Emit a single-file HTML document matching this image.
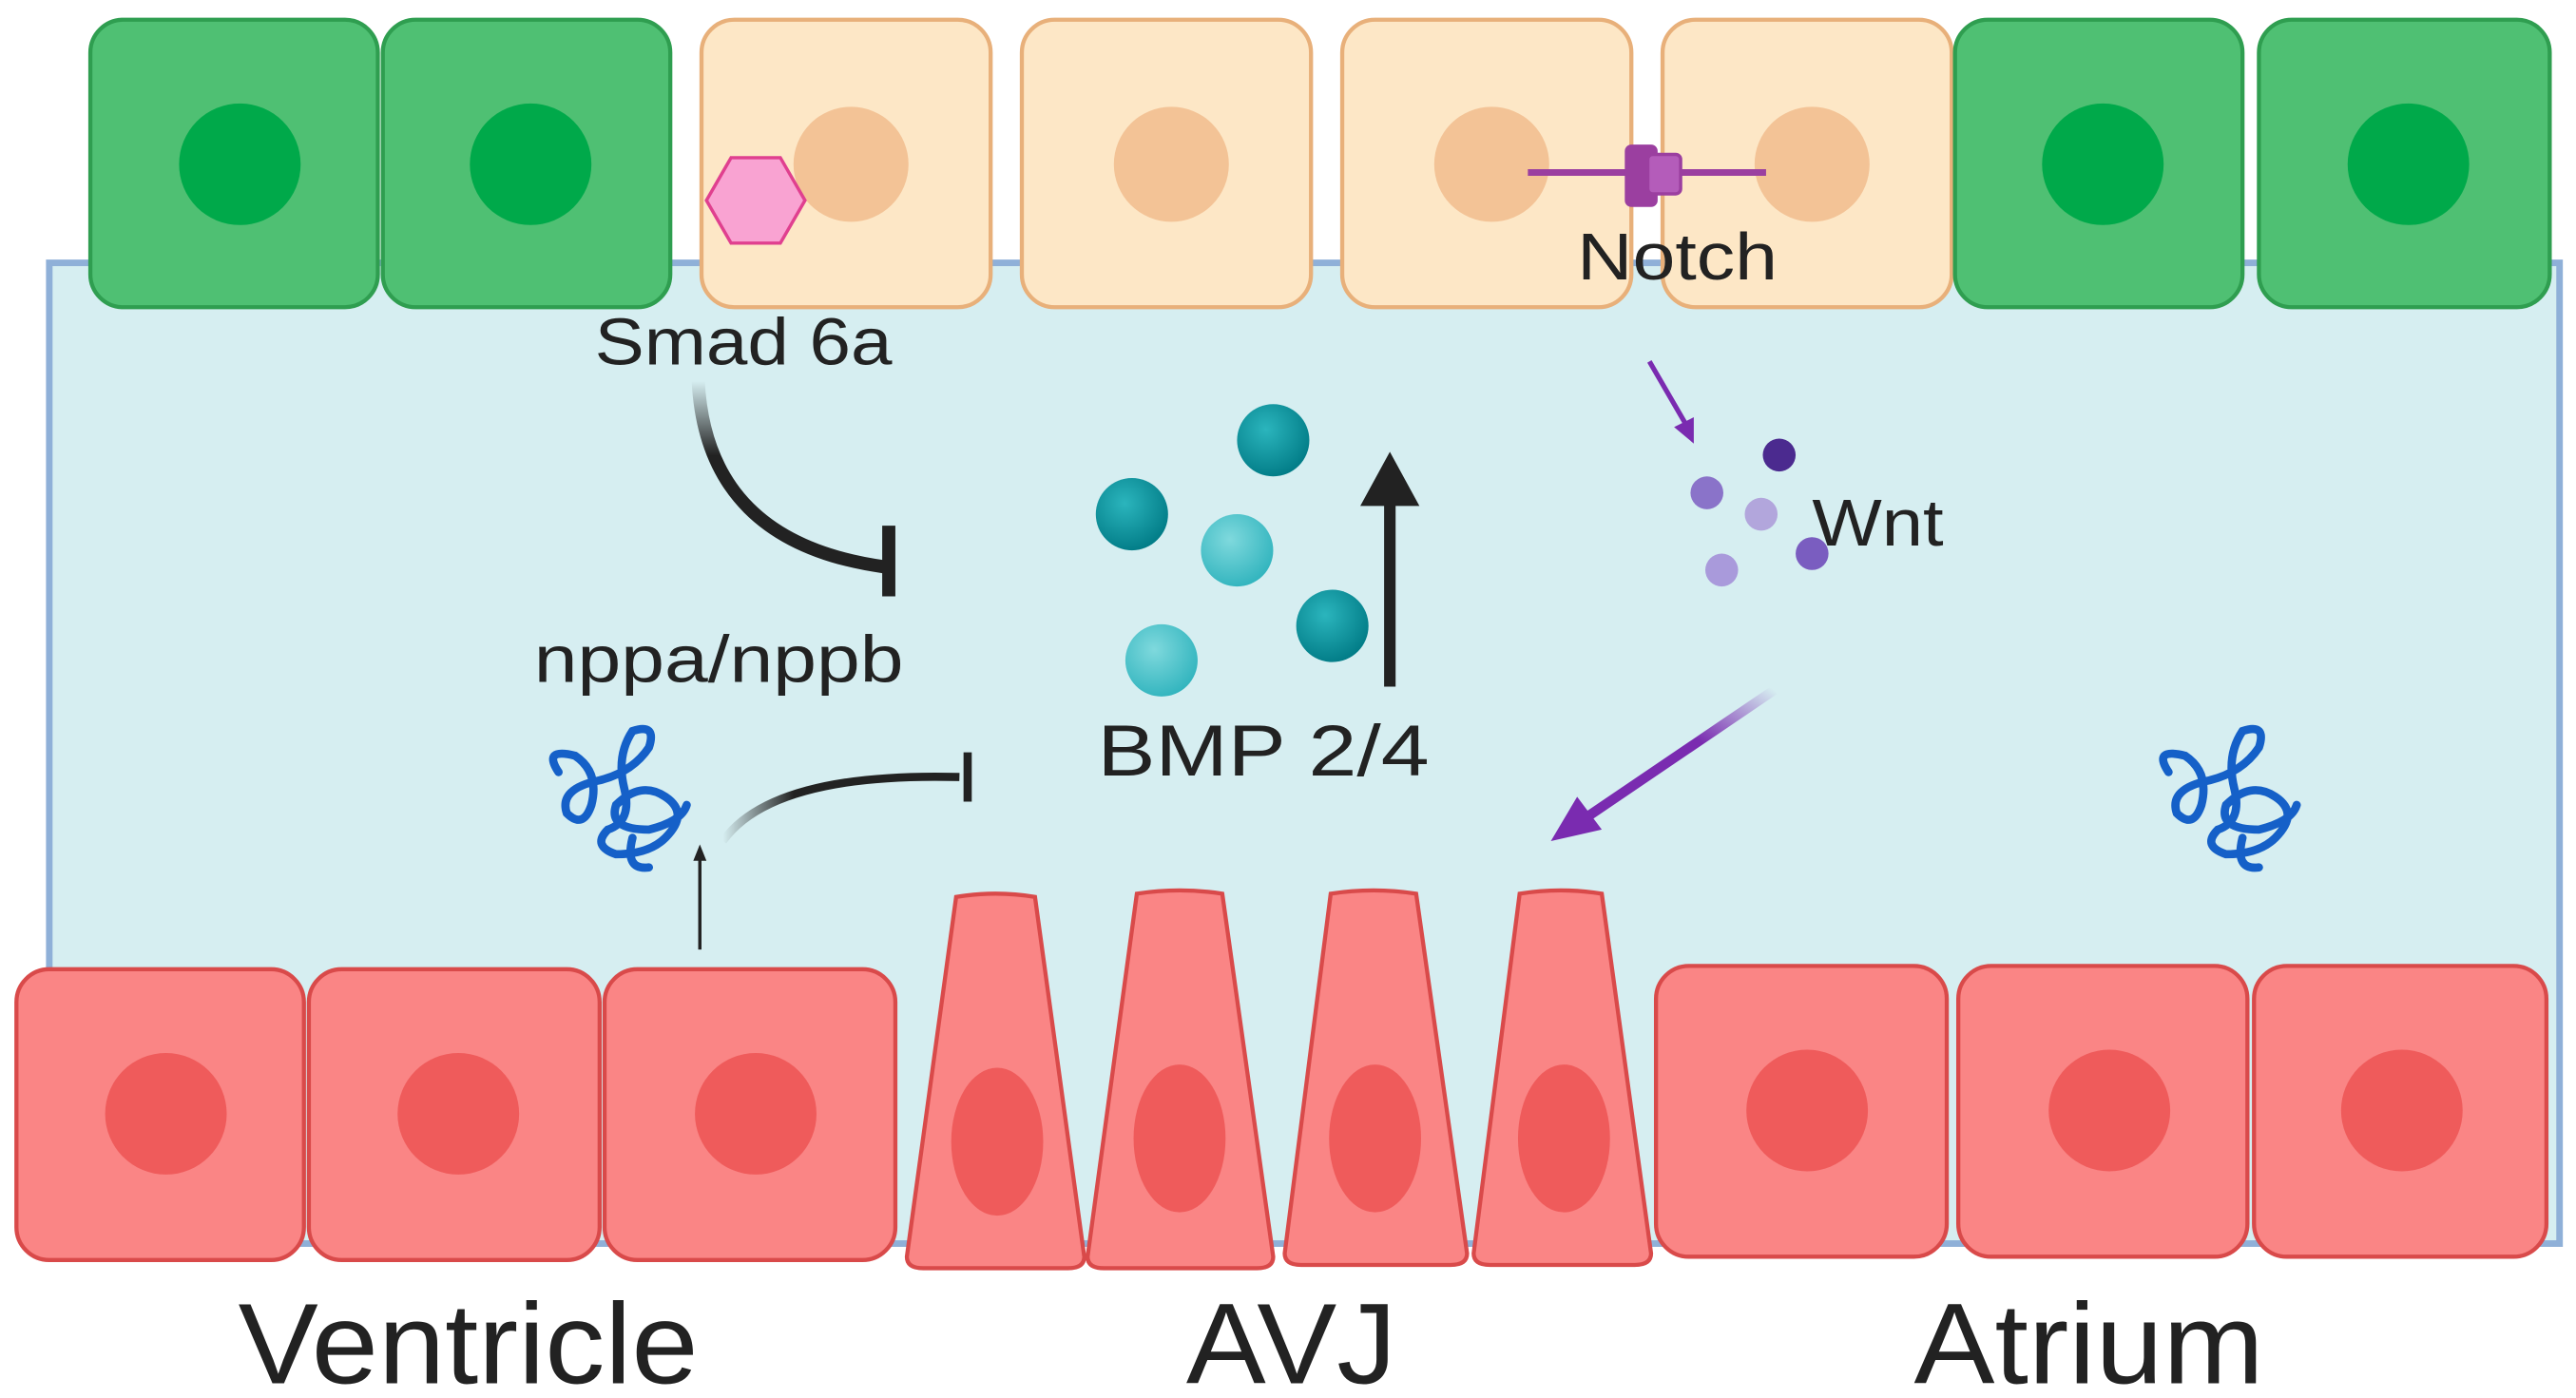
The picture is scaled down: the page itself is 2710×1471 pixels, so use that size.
<!DOCTYPE html>
<html><head><meta charset="utf-8"><style>
html,body{margin:0;padding:0;background:#fff;}
svg{display:block;}
text{font-family:"Liberation Sans",sans-serif;fill:#222;}
</style></head><body>
<svg width="2710" height="1471" viewBox="0 0 1568 851" preserveAspectRatio="none" xmlns="http://www.w3.org/2000/svg">
<defs>
<linearGradient id="g1" x1="0" y1="0" x2="0" y2="1"><stop offset="0" stop-color="#222" stop-opacity="0"/><stop offset="0.4" stop-color="#222"/></linearGradient>
<linearGradient id="g2" x1="0" y1="0" x2="1" y2="0"><stop offset="0" stop-color="#222" stop-opacity="0"/><stop offset="0.3" stop-color="#222"/></linearGradient>
<linearGradient id="g3" x1="1" y1="0" x2="0" y2="1"><stop offset="0" stop-color="#7a2bb0" stop-opacity="0"/><stop offset="0.4" stop-color="#7a2bb0"/></linearGradient>
<radialGradient id="ball" cx="0.4" cy="0.35" r="0.7"><stop offset="0" stop-color="#2bb5bd"/><stop offset="1" stop-color="#007a85"/></radialGradient>
<radialGradient id="ball2" cx="0.4" cy="0.35" r="0.7"><stop offset="0" stop-color="#7fd9dd"/><stop offset="1" stop-color="#2fb3bd"/></radialGradient>
</defs>
<rect x="30" y="160" width="1528" height="597" fill="#d6eef1" stroke="#8fb0d8" stroke-width="4"/>
<g stroke-width="2.5">
<rect x="55" y="12" width="175" height="175" rx="20" fill="#4fc073" stroke="#2f9e50"/>
<rect x="233" y="12" width="175" height="175" rx="20" fill="#4fc073" stroke="#2f9e50"/>
<rect x="427" y="12" width="176" height="175" rx="20" fill="#fde7c6" stroke="#e8b07a"/>
<rect x="622" y="12" width="176" height="175" rx="20" fill="#fde7c6" stroke="#e8b07a"/>
<rect x="817" y="12" width="176" height="175" rx="20" fill="#fde7c6" stroke="#e8b07a"/>
<rect x="1012" y="12" width="176" height="175" rx="20" fill="#fde7c6" stroke="#e8b07a"/>
<rect x="1190" y="12" width="175" height="175" rx="20" fill="#4fc073" stroke="#2f9e50"/>
<rect x="1375" y="12" width="177" height="175" rx="20" fill="#4fc073" stroke="#2f9e50"/>
</g>
<g fill="#00a94a"><circle cx="146" cy="100" r="37"/><circle cx="323" cy="100" r="37"/><circle cx="1280" cy="100" r="37"/><circle cx="1466" cy="100" r="37"/></g>
<g fill="#f3c396"><circle cx="518" cy="100" r="35"/><circle cx="713" cy="100" r="35"/><circle cx="908" cy="100" r="35"/><circle cx="1103" cy="100" r="35"/></g>
<polygon points="430,122 445,96 475,96 490,122 475,148 445,148" fill="#f9a3d2" stroke="#e0408f" stroke-width="2"/>
<line x1="930" y1="105" x2="1075" y2="105" stroke="#9b3fa0" stroke-width="4"/>
<rect x="989" y="88" width="20" height="38" rx="4" fill="#9b3fa0"/>
<rect x="1003" y="94" width="20" height="24" rx="3" fill="#b45cba" stroke="#9b3fa0" stroke-width="2"/>
<text x="960" y="170" font-size="40" textLength="122" lengthAdjust="spacingAndGlyphs">Notch</text>
<g stroke="#d94a4a" stroke-width="2.5" fill="#fa8585">
<rect x="10" y="590" width="175" height="177" rx="20"/>
<rect x="188" y="590" width="177" height="177" rx="20"/>
<rect x="368" y="590" width="177" height="177" rx="20"/>
<rect x="1008" y="588" width="177" height="177" rx="20"/>
<rect x="1192" y="588" width="176" height="177" rx="20"/>
<rect x="1372" y="588" width="178" height="177" rx="20"/>
<path d="M582,546 Q606,542 630,546 L660,765 Q660,772 650,772 L562,772 Q552,772 552,765 Z"/>
<path d="M692,544 Q718,540 744,544 L775,765 Q775,772 765,772 L672,772 Q662,772 662,765 Z"/>
<path d="M810,544 Q836,540 862,544 L893,763 Q893,770 883,770 L792,770 Q782,770 782,763 Z"/>
<path d="M925,544 Q950,540 975,544 L1005,763 Q1005,770 995,770 L907,770 Q897,770 897,763 Z"/>
</g>
<g fill="#ef5b5b">
<circle cx="101" cy="678" r="37"/><circle cx="279" cy="678" r="37"/><circle cx="460" cy="678" r="37"/>
<circle cx="1100" cy="676" r="37"/><circle cx="1284" cy="676" r="37"/><circle cx="1462" cy="676" r="37"/>
<ellipse cx="607" cy="695" rx="28" ry="45"/><ellipse cx="718" cy="693" rx="28" ry="45"/><ellipse cx="837" cy="693" rx="28" ry="45"/><ellipse cx="952" cy="693" rx="28" ry="45"/>
</g>
<text x="145" y="842" font-size="70" textLength="280" lengthAdjust="spacingAndGlyphs">Ventricle</text>
<text x="722" y="842" font-size="70" textLength="128" lengthAdjust="spacingAndGlyphs">AVJ</text>
<text x="1165" y="842" font-size="70" textLength="213" lengthAdjust="spacingAndGlyphs">Atrium</text>
<text x="362" y="222" font-size="40" textLength="181" lengthAdjust="spacingAndGlyphs">Smad 6a</text>
<path d="M425,232 Q430,330 538,345" fill="none" stroke="url(#g1)" stroke-width="8"/>
<line x1="541" y1="320" x2="541" y2="363" stroke="#222" stroke-width="8"/>
<circle cx="775" cy="268" r="22" fill="url(#ball)"/>
<circle cx="689" cy="313" r="22" fill="url(#ball)"/>
<circle cx="753" cy="335" r="22" fill="url(#ball2)"/>
<circle cx="811" cy="381" r="22" fill="url(#ball)"/>
<circle cx="707" cy="402" r="22" fill="url(#ball2)"/>
<line x1="846" y1="418" x2="846" y2="305" stroke="#222" stroke-width="7"/>
<polygon points="828,308 846,275 864,308" fill="#222"/>
<text x="668" y="472" font-size="44" textLength="202" lengthAdjust="spacingAndGlyphs">BMP 2/4</text>
<text x="325" y="415" font-size="40" textLength="225" lengthAdjust="spacingAndGlyphs">nppa/nppb</text>
<path d="M440,512 Q470,470 584,473" fill="none" stroke="url(#g2)" stroke-width="5"/>
<line x1="589" y1="458" x2="589" y2="488" stroke="#222" stroke-width="5"/>
<line x1="426" y1="578" x2="426" y2="522" stroke="#222" stroke-width="2"/>
<polygon points="422,524 426,514 430,524" fill="#222"/>
<g fill="none" stroke="#1560c8" stroke-width="5" stroke-linecap="round">
<path d="M340,470 Q330,455 350,460 Q365,470 360,490 Q355,505 345,495 Q340,480 365,475 Q385,470 395,455 Q400,440 385,445 Q375,460 380,480 Q385,500 370,505 Q360,515 375,520 Q395,520 405,510 Q420,495 405,485 Q390,475 375,490 Q370,505 395,505 Q415,500 418,490"/>
<path d="M385,510 Q380,530 395,528"/>
<path d="M1320,470 Q1310,455 1330,460 Q1345,470 1340,490 Q1335,505 1325,495 Q1320,480 1345,475 Q1365,470 1375,455 Q1380,440 1365,445 Q1355,460 1360,480 Q1365,500 1350,505 Q1340,515 1355,520 Q1375,520 1385,510 Q1400,495 1385,485 Q1370,475 1355,490 Q1350,505 1375,505 Q1395,500 1398,490"/>
<path d="M1365,510 Q1360,530 1375,528"/>
</g>
<line x1="1004" y1="220" x2="1026" y2="258" stroke="#7a2bb0" stroke-width="3"/>
<polygon points="1019,260 1031,270 1031,254" fill="#7a2bb0"/>
<circle cx="1083" cy="277" r="10" fill="#4b2a8f"/>
<circle cx="1039" cy="300" r="10" fill="#8a73c9"/>
<circle cx="1072" cy="313" r="10" fill="#b2a6dc"/>
<circle cx="1103" cy="337" r="10" fill="#7a5dc0"/>
<circle cx="1048" cy="347" r="10" fill="#a99adb"/>
<text x="1103" y="332" font-size="40" textLength="80" lengthAdjust="spacingAndGlyphs">Wnt</text>
<line x1="1080" y1="420" x2="965" y2="498" stroke="url(#g3)" stroke-width="6"/>
<polygon points="944,512 960,485 975,505" fill="#7a2bb0"/>
</svg>
</body></html>
